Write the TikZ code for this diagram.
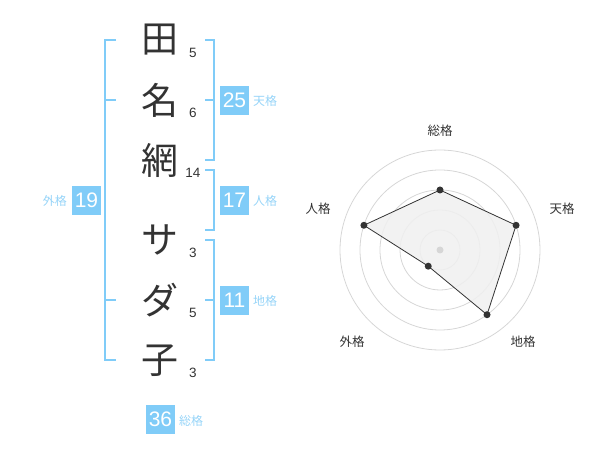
\documentclass[tikz,border=0pt]{standalone}
\usepackage{fontspec}
\setmainfont{Noto Sans CJK JP}
\newfontfamily\numfont{Liberation Sans}
\definecolor{sky}{RGB}{128,204,248}
\definecolor{skytext}{RGB}{150,212,248}
\definecolor{ink}{RGB}{51,51,51}
\definecolor{ring}{RGB}{214,214,214}
\definecolor{area}{RGB}{240,240,240}
\begin{document}
\begin{tikzpicture}[x=1pt,y=-1pt,
  kanji/.style={font=\fontsize{37}{37}\selectfont, text=ink, inner sep=0pt},
  strokenum/.style={font=\numfont\fontsize{13.5}{14}\selectfont, text=ink, inner sep=0pt},
  sumbox/.style={fill=sky, text=white, minimum width=29pt, minimum height=29pt, inner sep=0pt, font=\numfont\fontsize{21}{21}\selectfont},
  sumlabel/.style={text=skytext, font=\fontsize{12}{12}\selectfont, inner sep=0pt},
  bracket/.style={draw=sky, line width=2pt},
  ringline/.style={draw=ring, line width=0.8pt},
  radarlabel/.style={text=ink, font=\fontsize{12.5}{13}\selectfont, inner sep=0pt},
  dot/.style={circle, fill=ink, inner sep=0pt, minimum size=7pt}
]
\useasboundingbox (0,0) rectangle (600,470);

% characters
\node[kanji] (c1) at (160,40) {田};
\node[kanji] (c2) at (160,100) {名};
\node[kanji] (c3) at (160,160) {網};
\node[kanji] (c4) at (160,240) {サ};
\node[kanji] (c5) at (160,300) {ダ};
\node[kanji] (c6) at (160,361) {子};

% stroke numbers
\node[strokenum] (n1) at (193,53) {5};
\node[strokenum] (n2) at (193,113) {6};
\node[strokenum] (n3) at (193,173) {14};
\node[strokenum] (n4) at (193,253) {3};
\node[strokenum] (n5) at (193,313) {5};
\node[strokenum] (n6) at (193,373) {3};

% brackets
\draw[bracket] (116,40) -- (105,40) -- (105,360) -- (116,360);
\draw[bracket] (105,100) -- (116,100);
\draw[bracket] (105,300) -- (116,300);

\draw[bracket] (205,40) -- (214,40) -- (214,160) -- (205,160);
\draw[bracket] (214,100) -- (205,100);
\draw[bracket] (205,170) -- (214,170) -- (214,230) -- (205,230);
\draw[bracket] (205,240) -- (214,240) -- (214,360) -- (205,360);
\draw[bracket] (214,300) -- (205,300);

% sum boxes
\node[sumbox] (b25) at (234.5,100.5) {25};
\node[sumlabel, anchor=west] (l25) at (253,101) {天格};
\node[sumbox] (b17) at (234.5,200.5) {17};
\node[sumlabel, anchor=west] (l17) at (253,201) {人格};
\node[sumbox] (b11) at (234.5,300.5) {11};
\node[sumlabel, anchor=west] (l11) at (253,301) {地格};
\node[sumbox] (b19) at (86.5,200.5) {19};
\node[sumlabel, anchor=east] (l19) at (67,201) {外格};
\node[sumbox] (b36) at (160.5,419.5) {36};
\node[sumlabel, anchor=west] (l36) at (179,421) {総格};

% radar
\coordinate (ctr) at (440,250);
\foreach \r in {20,40,60,80,100} \draw[ringline] (ctr) circle[radius=\r];

\coordinate (p1) at (440,190);
\coordinate (p2) at (516.08,225.28);
\coordinate (p3) at (487.02,314.72);
\coordinate (p4) at (428.24,266.18);
\coordinate (p5) at (363.92,225.28);
\draw[fill=area, fill opacity=0.85, draw=ink, line width=0.8pt] (p1) -- (p2) -- (p3) -- (p4) -- (p5) -- cycle;
\node[circle, fill=ring, inner sep=0pt, minimum size=7pt] (cdot) at (ctr) {};
\foreach \p in {p1,p2,p3,p4,p5} \node[dot] (d\p) at (\p) {};

\node[radarlabel] (r1) at (440,130.5) {総格};
\node[radarlabel] (r2) at (562,209) {天格};
\node[radarlabel] (r3) at (523,342) {地格};
\node[radarlabel] (r4) at (352,342) {外格};
\node[radarlabel] (r5) at (318,209) {人格};
\end{tikzpicture}
\end{document}
